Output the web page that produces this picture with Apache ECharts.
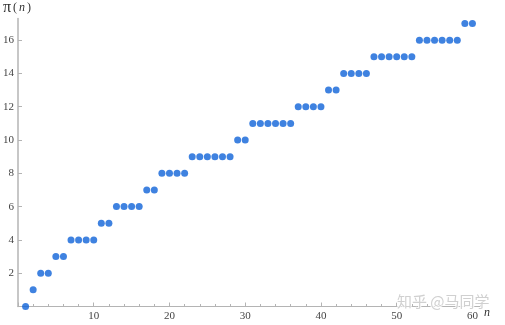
<!DOCTYPE html>
<html><head><meta charset="utf-8">
<script src="https://cdn.jsdelivr.net/npm/echarts@6/dist/echarts.min.js"></script>
<style>html,body{margin:0;padding:0;background:#fff}#c{width:505px;height:325px}</style>
</head><body><div id="c"></div>
<script>
const nValues = [1,2,3,4,5,6,7,8,9,10,11,12,13,14,15,16,17,18,19,20,21,22,23,24,25,26,27,28,29,30,31,32,33,34,35,36,37,38,39,40,41,42,43,44,45,46,47,48,49,50,51,52,53,54,55,56,57,58,59,60];
const piValues = [0,1,2,2,3,3,4,4,4,4,5,5,6,6,6,6,7,7,8,8,8,8,9,9,9,9,9,9,10,10,11,11,11,11,11,11,12,12,12,12,13,13,14,14,14,14,15,15,15,15,15,15,16,16,16,16,16,16,17,17];
const xTicks = [10,20,30,40,50,60];
const yTicks = [2,4,6,8,10,12,14,16];

const chart = echarts.init(document.getElementById('c'));
const serif = 'Liberation Serif';
const axisCol = '#b4b4b4';
chart.setOption({
  animation:false,
  grid:{left:16,right:25,top:18.5,bottom:18.5,containLabel:false},
  xAxis:{type:'value',min:0,max:61,interval:10,
    axisLine:{show:true,onZero:false,lineStyle:{color:axisCol,width:1}},
    axisTick:{show:true,inside:true,length:4,lineStyle:{color:axisCol}},
    minorTick:{show:true,splitNumber:5,length:2.5,lineStyle:{color:axisCol}},
    splitLine:{show:false},
    axisLabel:{margin:4,fontFamily:serif,fontSize:11,color:'#444',showMaxLabel:false,
      formatter:v=>xTicks.includes(v)?String(v):''}
  },
  yAxis:{type:'value',min:0,max:17.3,interval:2,
    axisLine:{show:true,onZero:false,lineStyle:{color:axisCol,width:1.5}},
    axisTick:{show:true,inside:true,length:4,lineStyle:{color:axisCol}},
    splitLine:{show:false},
    axisLabel:{margin:4,fontFamily:serif,fontSize:11,color:'#444',showMaxLabel:false,
      formatter:v=>yTicks.includes(v)?String(v):''}
  },
  graphic:[
    {type:'text',left:3,top:0,style:{
      text:'{a|π}{b|(}{c|n}{b|)}',
      rich:{a:{fontFamily:serif,fontSize:16,fill:'#333'},b:{fontFamily:serif,fontSize:12,fill:'#333',padding:[0,2]},c:{fontFamily:serif,fontSize:12,fontStyle:'italic',fill:'#333'}}
    }},
    {type:'text',left:396,top:293,z:10,style:{text:'知乎 @马同学',fontFamily:'Noto Sans CJK SC',fontSize:15,fill:'rgba(200,200,200,0.85)',stroke:'rgba(255,255,255,0.9)',lineWidth:2}},
    {type:'text',left:484,top:307,z:11,style:{text:'n',fontFamily:serif,fontStyle:'italic',fontSize:12,fill:'#333'}}
  ],
  series:[{type:'scatter',symbol:'circle',symbolSize:7,clip:false,
    itemStyle:{color:'#0f63d8'},
    data:nValues.map((n,i)=>[n,piValues[i]])}]
});
</script></body></html>
